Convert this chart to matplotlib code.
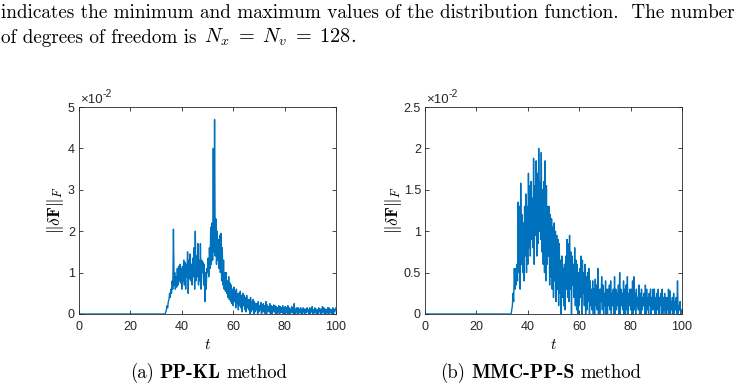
import numpy as np
import matplotlib
matplotlib.use("Agg")
import matplotlib.pyplot as plt
from matplotlib.ticker import FuncFormatter

plt.rcParams['mathtext.fontset'] = 'cm'

# time grid of the non-flat part: 33 .. 100 step 0.25 ; before t = 33 both curves are 0
t_flat = [0, 33]
dF_flat = [0, 0]

# ||dF||_F in units of 1e-2, PP-KL method (4 values per unit of t)
dF_ppkl = [
    0, 0, 0, 0.05,            # 33
    0.1, 0.2, 0.15, 0.3,      # 34
    0.35, 0.5, 0.4, 0.6,      # 35
    0.5, 0.8, 0.6, 2.05,      # 36
    0.7, 1.0, 0.6, 0.9,       # 37
    0.65, 1.1, 0.7, 1.15,     # 38
    0.8, 1.2, 0.75, 1.1,      # 39
    0.6, 1.15, 0.8, 1.3,      # 40
    0.7, 1.25, 0.6, 1.2,      # 41
    0.9, 1.5, 0.5, 1.3,       # 42
    0.85, 1.45, 0.8, 1.2,     # 43
    0.7, 1.35, 0.9, 1.6,      # 44
    0.6, 2.0, 0.8, 1.4,       # 45
    0.9, 1.7, 0.7, 1.3,       # 46
    0.8, 1.7, 0.6, 1.3,       # 47
    1.0, 1.25, 0.7, 1.2,      # 48
    0.3, 1.0, 0.6, 1.1,       # 49
    1.0, 1.35, 0.9, 1.6,      # 50
    1.1, 2.1, 1.2, 2.2,       # 51
    1.3, 4.0, 1.5, 4.7,       # 52
    1.4, 2.3, 1.2, 2.0,       # 53
    1.3, 1.8, 1.1, 1.9,       # 54
    1.0, 1.95, 0.8, 1.6,      # 55
    0.7, 1.3, 0.6, 1.0,       # 56
    0.55, 1.0, 0.5, 0.8,      # 57
    0.4, 0.9, 0.35, 0.75,     # 58
    0.3, 0.7, 0.25, 0.6,      # 59
    0.2, 0.65, 0.3, 0.55,     # 60
    0.15, 0.6, 0.25, 0.5,     # 61
    0.1, 0.5, 0.2, 0.55,      # 62
    0.15, 0.45, 0.05, 0.5,    # 63
    0.2, 0.45, 0.1, 0.4,      # 64
    0.05, 0.45, 0.15, 0.35,   # 65
    0.1, 0.35, 0.0, 0.4,      # 66
    0.05, 0.3, 0.1, 0.35,     # 67
    0.0, 0.3, 0.05, 0.25,     # 68
    0.1, 0.25, 0.0, 0.3,      # 69
    0.05, 0.2, 0.1, 0.28,     # 70
    0.0, 0.22, 0.05, 0.25,    # 71
    0.05, 0.2, 0.0, 0.3,      # 72
    0.0, 0.22, 0.08, 0.18,    # 73
    0.05, 0.25, 0.0, 0.2,     # 74
    0.0, 0.18, 0.05, 0.22,    # 75
    0.05, 0.2, 0.0, 0.18,     # 76
    0.0, 0.15, 0.05, 0.2,     # 77
    0.0, 0.18, 0.03, 0.15,    # 78
    0.05, 0.2, 0.0, 0.15,     # 79
    0.0, 0.18, 0.05, 0.15,    # 80
    0.02, 0.2, 0.0, 0.15,     # 81
    0.0, 0.12, 0.05, 0.18,    # 82
    0.03, 0.15, 0.0, 0.25,    # 83
    0.0, 0.12, 0.05, 0.15,    # 84
    0.0, 0.15, 0.02, 0.12,    # 85
    0.05, 0.15, 0.0, 0.1,     # 86
    0.0, 0.15, 0.05, 0.12,    # 87
    0.0, 0.12, 0.03, 0.15,    # 88
    0.05, 0.1, 0.0, 0.15,     # 89
    0.0, 0.12, 0.05, 0.18,    # 90
    0.0, 0.1, 0.02, 0.15,     # 91
    0.03, 0.12, 0.0, 0.1,     # 92
    0.0, 0.15, 0.05, 0.12,    # 93
    0.0, 0.12, 0.02, 0.18,    # 94
    0.05, 0.15, 0.0, 0.12,    # 95
    0.0, 0.1, 0.05, 0.15,     # 96
    0.0, 0.15, 0.02, 0.12,    # 97
    0.03, 0.1, 0.0, 0.15,     # 98
    0.0, 0.12, 0.05, 0.1,     # 99
    0.15,                     # 100
]

# ||dF||_F in units of 1e-2, MMC-PP-S method
dF_mmc = [
    0, 0, 0, 0.05,            # 33
    0.1, 0.25, 0.15, 0.55,    # 34
    0.3, 0.55, 0.35, 0.6,     # 35
    0.4, 1.35, 0.5, 1.3,      # 36
    0.3, 1.58, 0.6, 1.2,      # 37
    0.5, 1.1, 0.4, 1.3,       # 38
    0.7, 1.45, 0.5, 1.3,      # 39
    0.6, 1.7, 0.8, 1.55,      # 40
    0.7, 1.6, 0.9, 1.4,       # 41
    0.8, 1.88, 0.6, 1.55,     # 42
    0.95, 1.85, 0.7, 1.7,     # 43
    0.85, 2.0, 1.0, 1.6,      # 44
    0.9, 1.95, 0.75, 1.5,     # 45
    0.6, 1.6, 0.5, 1.85,      # 46
    0.4, 1.55, 0.6, 1.3,      # 47
    0.7, 1.3, 0.35, 1.2,      # 48
    0.45, 1.15, 0.3, 1.05,    # 49
    0.2, 1.1, 0.4, 1.0,       # 50
    0.15, 0.95, 0.3, 0.9,     # 51
    0.1, 0.85, 0.25, 0.65,    # 52
    0.0, 0.7, 0.2, 0.55,      # 53
    0.1, 0.6, 0.05, 0.7,      # 54
    0.3, 0.9, 0.2, 0.85,      # 55
    0.15, 0.95, 0.3, 0.75,    # 56
    0.0, 0.7, 0.35, 0.6,      # 57
    0.2, 0.8, 0.1, 0.65,      # 58
    0.05, 0.6, 0.0, 0.5,      # 59
    0.1, 0.55, 0.2, 0.7,      # 60
    0.0, 0.65, 0.25, 0.5,     # 61
    0.1, 0.6, 0.0, 0.45,      # 62
    0.05, 0.5, 0.15, 0.55,    # 63
    0.0, 0.4, 0.1, 0.3,       # 64
    0.05, 0.4, 0.0, 0.3,      # 65
    0.0, 0.42, 0.1, 0.35,     # 66
    0.05, 0.55, 0.0, 0.3,     # 67
    0.0, 0.3, 0.15, 0.45,     # 68
    0.05, 0.35, 0.0, 0.25,    # 69
    0.1, 0.4, 0.0, 0.3,       # 70
    0.0, 0.3, 0.1, 0.35,      # 71
    0.05, 0.4, 0.0, 0.25,     # 72
    0.1, 0.3, 0.0, 0.45,      # 73
    0.0, 0.3, 0.05, 0.25,     # 74
    0.1, 0.35, 0.0, 0.5,      # 75
    0.0, 0.3, 0.1, 0.25,      # 76
    0.05, 0.4, 0.0, 0.3,      # 77
    0.0, 0.35, 0.05, 0.45,    # 78
    0.0, 0.25, 0.1, 0.3,      # 79
    0.05, 0.3, 0.0, 0.4,      # 80
    0.0, 0.45, 0.05, 0.25,    # 81
    0.0, 0.3, 0.1, 0.2,       # 82
    0.05, 0.35, 0.0, 0.25,    # 83
    0.0, 0.3, 0.05, 0.2,      # 84
    0.1, 0.25, 0.0, 0.35,     # 85
    0.0, 0.3, 0.05, 0.2,      # 86
    0.0, 0.25, 0.1, 0.3,      # 87
    0.0, 0.2, 0.05, 0.3,      # 88
    0.05, 0.3, 0.0, 0.2,      # 89
    0.0, 0.25, 0.05, 0.3,     # 90
    0.0, 0.2, 0.1, 0.25,      # 91
    0.0, 0.3, 0.0, 0.2,       # 92
    0.05, 0.25, 0.0, 0.2,     # 93
    0.0, 0.2, 0.05, 0.3,      # 94
    0.0, 0.28, 0.0, 0.15,     # 95
    0.05, 0.2, 0.0, 0.25,     # 96
    0.0, 0.15, 0.05, 0.2,     # 97
    0.0, 0.4, 0.0, 0.1,       # 98
    0.05, 0.15, 0.0, 0.05,    # 99
    0.05,                     # 100
]

t_ticks = [0, 20, 40, 60, 80, 100]
yticks_ppkl = [0, 1, 2, 3, 4, 5]
yticks_mmc = [0, 0.5, 1, 1.5, 2, 2.5]

t_grid = np.arange(33, 100.001, 0.25)

blue = '#0072BD'
dark = '#262626'
tickfont = 'Liberation Sans'
W, H = 749, 389

fig = plt.figure(figsize=(7.49, 3.89), dpi=100)
renderer = fig.canvas.get_renderer()


def put_pieces(x_px, y_px, pieces):
    # writes pieces of text one after the other on a common baseline
    x = x_px
    for s, fam, size, gap in pieces:
        t = fig.text(x / W, 1 - y_px / H, s, fontfamily=fam, fontsize=size,
                     va='baseline', ha='left')
        x += t.get_window_extent(renderer).width + gap


# text of the page above the figure
fig.text(0.001, 1 - 18 / H, "indicates the minimum and maximum values of the distribution function.  The number",
         fontfamily='cmr10', fontsize=13.8, va='baseline', ha='left')
put_pieces(1, 43, [("of degrees of freedom is", 'cmr10', 13.8, 7),
                   (r"$N_x\;=\;N_v\;=\;128$.", 'cmr10', 14.6, 0)])

panels = [
    (79, dF_ppkl, yticks_ppkl, 5, 55, "(a)", "PP-KL", 130),
    (425, dF_mmc, yticks_mmc, 2.5, 394, "(b)", "MMC-PP-S", 440),
]

for x0, vals, yt, ytop, ylab_px, tag, method, cap_x in panels:
    ax = fig.add_axes([x0 / W, 1 - 314 / H, 257 / W, 207 / H])
    tt = np.concatenate([t_flat, t_grid])
    yy = np.concatenate([dF_flat, vals])
    ax.plot(tt, yy, color=blue, lw=1.0)
    ax.set_xlim(0, 100)
    ax.set_ylim(0, ytop)
    ax.set_xticks(t_ticks)
    ax.set_yticks(yt)
    ax.yaxis.set_major_formatter(FuncFormatter(lambda v, p: '%g' % v))
    ax.tick_params(direction='in', top=True, right=True, length=3, width=0.6,
                   color=dark, labelcolor=dark, labelsize=9)
    ax.tick_params(axis='x', pad=5)
    ax.tick_params(axis='y', pad=3)
    for lab in ax.get_xticklabels() + ax.get_yticklabels():
        lab.set_fontfamily(tickfont)
    for s in ax.spines.values():
        s.set_color(dark)
        s.set_linewidth(0.6)
    ax.set_xlabel(r"$t$", fontsize=11, labelpad=3)
    # y label placed by hand (centre of the text)
    fig.text(ylab_px / W, 1 - 210 / H, r"$\|\delta\mathbf{F}\|_F$", fontsize=12.5,
             rotation=90, ha='center', va='center')
    # matlab style exponent marker above the axes
    ax.text(0.005, 1.005, "\u00d710", transform=ax.transAxes, fontfamily=tickfont,
            fontsize=9.5, color=dark, ha='left', va='bottom')
    ax.text(0.093, 1.04, "-2", transform=ax.transAxes, fontfamily=tickfont,
            fontsize=7.5, color=dark, ha='left', va='bottom')
    put_pieces(cap_x, 378, [(tag, 'cmr10', 13.5, 6),
                            (method, 'cmb10', 14.3, 6),
                            ("method", 'cmr10', 13.5, 0)])

fig.savefig('out.png', dpi=100)
